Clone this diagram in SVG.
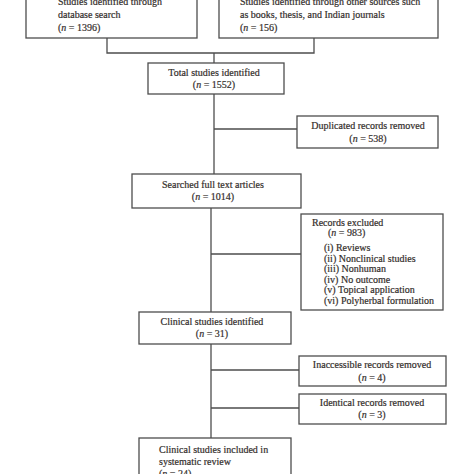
<svg xmlns="http://www.w3.org/2000/svg" width="474" height="474" viewBox="0 0 474 474">
<style>
.box{fill:#fff;stroke:#4d4d4d;stroke-width:1.3}
.ln{fill:none;stroke:#4d4d4d;stroke-width:1.3}
text{font-family:"Liberation Serif","Times New Roman",serif;font-size:10px;fill:#332e2b;stroke:#332e2b;stroke-width:0.2}
.c{text-anchor:middle}
.i{font-style:italic}
</style>
<rect width="474" height="474" fill="#fff"/>
<g id="connectors">
<path class="ln" d="M107,38 V53 H314 V38"/>
<path class="ln" d="M214,53 V63"/>
<path class="ln" d="M214,94 V174"/>
<path class="ln" d="M214,129 H297"/>
<path class="ln" d="M211,208 V312"/>
<path class="ln" d="M211,254 H301"/>
<path class="ln" d="M211,344 V438"/>
<path class="ln" d="M211,370 H299"/>
<path class="ln" d="M211,408 H299"/>
</g>
<g id="db">
<rect class="box" x="26" y="-10" width="171" height="48"/>
<text x="58" y="5">Studies identified through</text>
<text x="58" y="18">database search</text>
<text x="58" y="31">(<tspan class="i">n</tspan> = 1396)</text>
</g>
<g id="other">
<rect class="box" x="219" y="-10" width="219" height="48"/>
<text x="240" y="5">Studies identified through other sources such</text>
<text x="240" y="18">as books, thesis, and Indian journals</text>
<text x="240" y="31">(<tspan class="i">n</tspan> = 156)</text>
</g>
<g id="total">
<rect class="box" x="148" y="63" width="136" height="31"/>
<text class="c" x="214" y="76">Total studies identified</text>
<text class="c" x="214" y="88">(<tspan class="i">n</tspan> = 1552)</text>
</g>
<g id="dup">
<rect class="box" x="297" y="116" width="141" height="32"/>
<text class="c" x="368" y="129">Duplicated records removed</text>
<text class="c" x="368" y="142">(<tspan class="i">n</tspan> = 538)</text>
</g>
<g id="searched">
<rect class="box" x="132" y="174" width="169" height="34"/>
<text class="c" x="213" y="188">Searched full text articles</text>
<text class="c" x="213" y="200">(<tspan class="i">n</tspan> = 1014)</text>
</g>
<g id="excluded">
<rect class="box" x="301" y="214" width="142" height="96"/>
<text x="312" y="226">Records excluded</text>
<text x="328" y="236">(<tspan class="i">n</tspan> = 983)</text>
<text x="324" y="251">(i) Reviews</text>
<text x="324" y="261.5">(ii) Nonclinical studies</text>
<text x="324" y="272">(iii) Nonhuman</text>
<text x="324" y="282.5">(iv) No outcome</text>
<text x="324" y="293">(v) Topical application</text>
<text x="324" y="303.5">(vi) Polyherbal formulation</text>
</g>
<g id="clinical">
<rect class="box" x="139" y="312" width="152" height="32"/>
<text class="c" x="212" y="325">Clinical studies identified</text>
<text class="c" x="212" y="337">(<tspan class="i">n</tspan> = 31)</text>
</g>
<g id="inaccessible">
<rect class="box" x="299" y="356" width="147" height="30"/>
<text class="c" x="372" y="368">Inaccessible records removed</text>
<text class="c" x="372" y="381">(<tspan class="i">n</tspan> = 4)</text>
</g>
<g id="identical">
<rect class="box" x="299" y="394" width="147" height="30"/>
<text class="c" x="372" y="406">Identical records removed</text>
<text class="c" x="372" y="418">(<tspan class="i">n</tspan> = 3)</text>
</g>
<g id="included">
<rect class="box" x="139" y="438" width="152" height="50"/>
<text x="159" y="453">Clinical studies included in</text>
<text x="159" y="465">systematic review</text>
<text x="159" y="477">(<tspan class="i">n</tspan> = 24)</text>
</g>
</svg>
